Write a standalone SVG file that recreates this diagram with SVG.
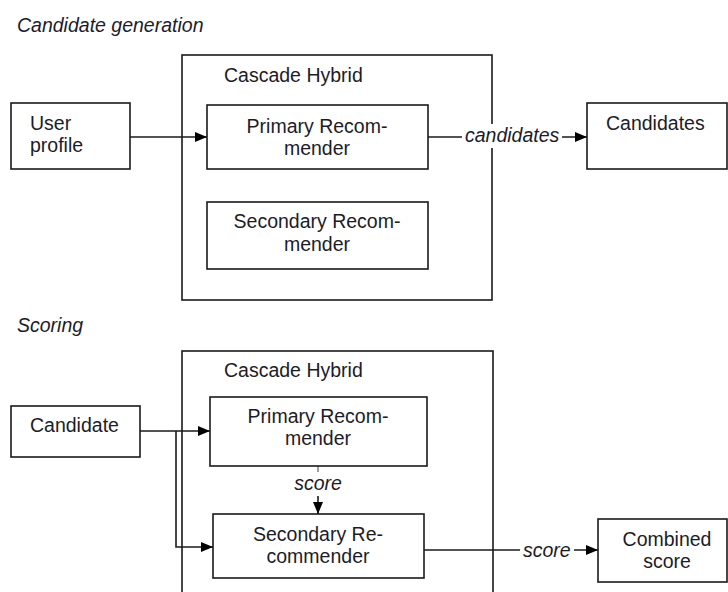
<svg xmlns="http://www.w3.org/2000/svg" width="728" height="592" viewBox="0 0 728 592">
<style>
text{font-family:"Liberation Sans",Arial,sans-serif;font-size:19.5px;fill:#1c1c28}
.it{font-style:italic}
.c{text-anchor:middle}
.box{fill:#fff;stroke:#1a1a1a;stroke-width:1.6}
.frame{fill:none;stroke:#1a1a1a;stroke-width:1.6}
.ln{fill:none;stroke:#1a1a1a;stroke-width:1.6}
</style>
<defs>
<marker id="ah" markerWidth="12" markerHeight="10" refX="12" refY="5" orient="auto" markerUnits="userSpaceOnUse">
<path d="M0,0 L12,5 L0,10 Z" fill="#000"/>
</marker>
</defs>
<rect width="728" height="592" fill="#fff"/>
<text class="it" x="17" y="32">Candidate generation</text>
<text class="it" x="17" y="332">Scoring</text>
<g id="hybrid1"><rect class="frame" x="182" y="55" width="310" height="245"/><text x="224" y="82">Cascade Hybrid</text></g>
<g id="hybrid2"><rect class="frame" x="182" y="351" width="311" height="260"/><text x="224" y="377">Cascade Hybrid</text></g>
<g id="connectors">
<path class="ln" d="M130,137 H207" marker-end="url(#ah)"/>
<path class="ln" d="M428,137 H587" marker-end="url(#ah)"/>
<path class="ln" d="M140,431 H210" marker-end="url(#ah)"/>
<path class="ln" d="M176,431 V547 H213" marker-end="url(#ah)"/>
<path d="M318,466 V472" stroke="#888" stroke-width="1.6"/>
<path class="ln" d="M318,496 V514" marker-end="url(#ah)"/>
<path class="ln" d="M424,550 H598" marker-end="url(#ah)"/>
<rect x="462" y="124" width="100" height="24" fill="#fff"/>
<text class="it" x="465" y="142">candidates</text>
<text class="it c" x="318" y="490">score</text>
<rect x="520" y="538" width="54" height="22" fill="#fff"/>
<text class="it" x="523" y="557">score</text>
</g>
<g id="user-profile"><rect class="box" x="11" y="103" width="119" height="66"/><text x="30" y="130">User</text><text x="30" y="152">profile</text></g>
<g id="primary1"><rect class="box" x="207" y="105" width="221" height="64"/><text class="c" x="317" y="133">Primary Recom-</text><text class="c" x="317" y="155">mender</text></g>
<g id="secondary1"><rect class="box" x="207" y="202" width="221" height="67"/><text class="c" x="317" y="228">Secondary Recom-</text><text class="c" x="317" y="251">mender</text></g>
<g id="candidates"><rect class="box" x="587" y="103" width="140" height="66"/><text x="606" y="130">Candidates</text></g>
<g id="candidate"><rect class="box" x="11" y="406" width="129" height="51"/><text x="30" y="432">Candidate</text></g>
<g id="primary2"><rect class="box" x="210" y="397" width="217" height="69"/><text class="c" x="318" y="423">Primary Recom-</text><text class="c" x="318" y="445">mender</text></g>
<g id="secondary2"><rect class="box" x="213" y="514" width="211" height="64"/><text class="c" x="318" y="541">Secondary Re-</text><text class="c" x="318" y="563">commender</text></g>
<g id="combined"><rect class="box" x="598" y="519" width="129" height="63"/><text class="c" x="667" y="546">Combined</text><text class="c" x="667" y="568">score</text></g>
</svg>
